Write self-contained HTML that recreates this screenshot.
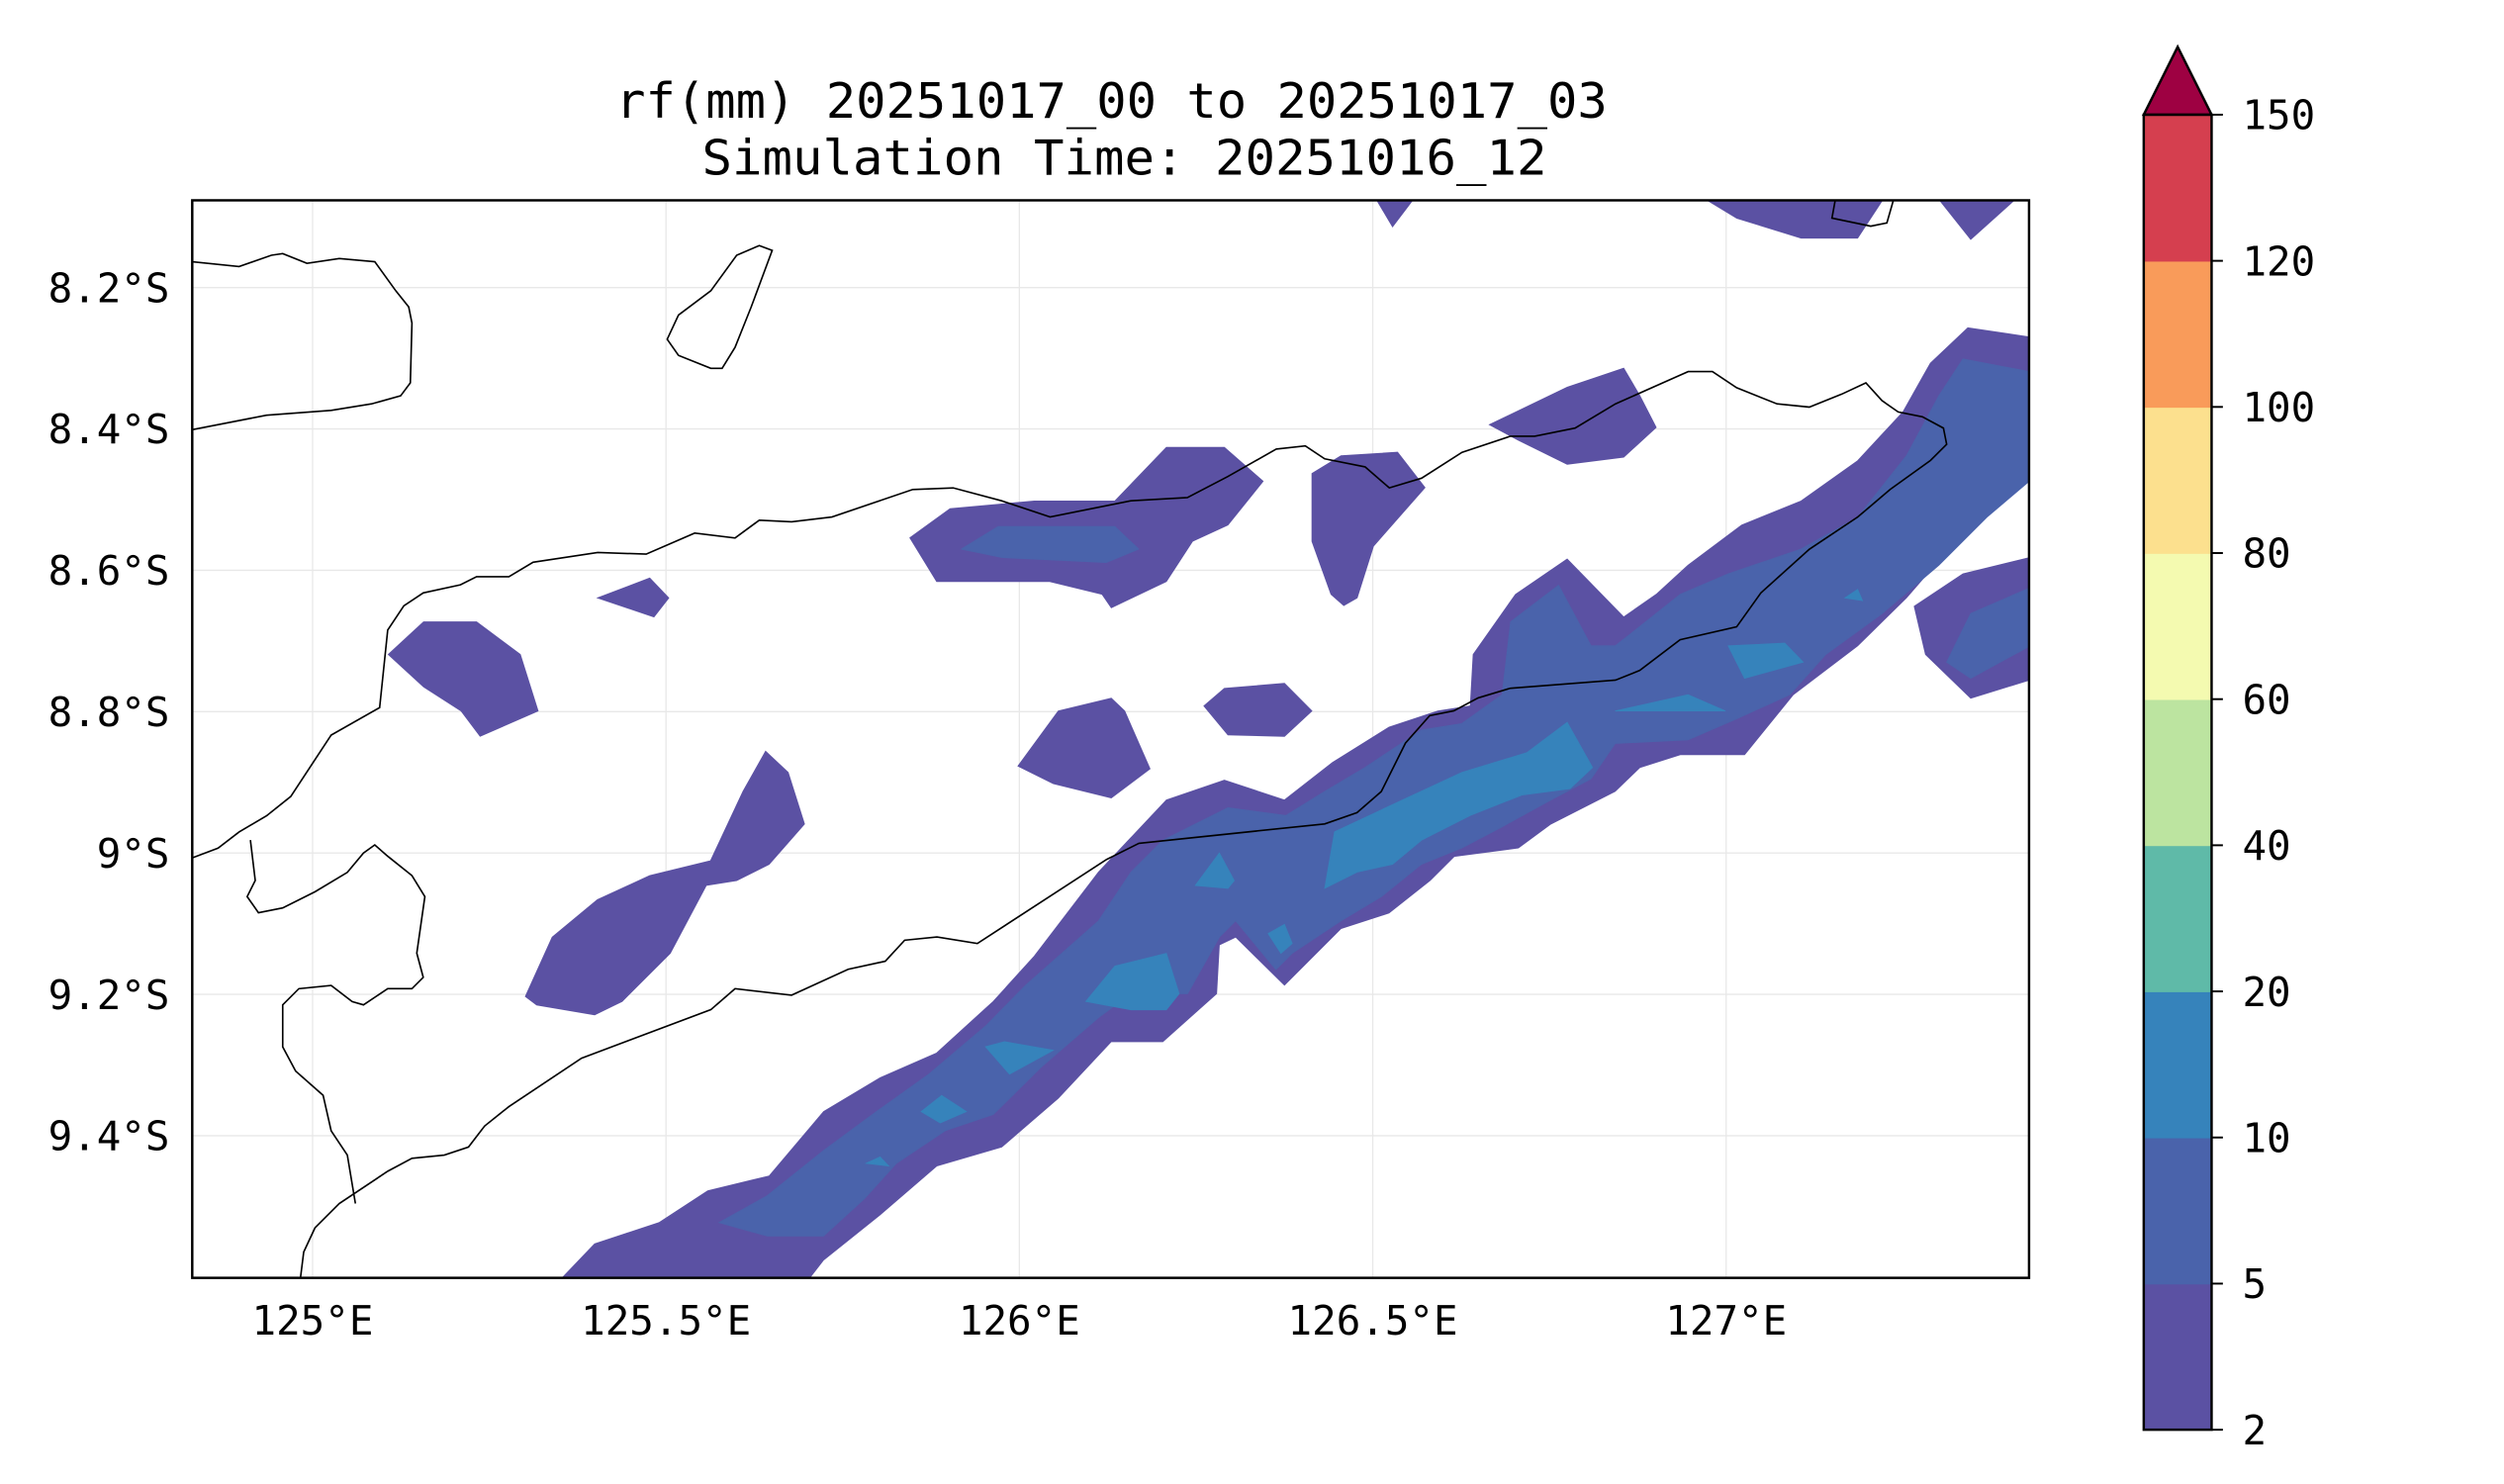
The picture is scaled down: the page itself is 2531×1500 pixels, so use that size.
<!DOCTYPE html>
<html><head><meta charset="utf-8">
<style>
html,body{margin:0;padding:0;background:#fff;}
svg{display:block;}
text{font-family:"DejaVu Sans Mono","Liberation Mono",monospace;fill:#000;}
</style></head>
<body>
<svg id="chart" width="2531" height="1500" viewBox="0 0 1550 918.6" preserveAspectRatio="none" xmlns="http://www.w3.org/2000/svg">
  <rect x="0" y="0" width="1550" height="918.6" fill="#fff"/>
  <text x="688" y="73" font-size="30" text-anchor="middle" textLength="614" lengthAdjust="spacingAndGlyphs">rf(mm) 20251017_00 to 20251017_03</text>
  <text x="696" y="108" font-size="30" text-anchor="middle" textLength="523" lengthAdjust="spacingAndGlyphs">Simulation Time: 20251016_12</text>
  <defs><clipPath id="plotclip"><rect x="119" y="124" width="1137" height="667"/></clipPath></defs>
  <g id="grid"></g>
  <g id="fills" clip-path="url(#plotclip)"></g>
  <g clip-path="url(#plotclip)" fill="none" stroke="#000" stroke-width="1">
    <polyline points="119,162 148,165 168,158 175,157 190,163 210,160 232,162 245,180 253,190 255,200 254,237 248,245 230,250 205,254 165,257 119,266"/>
    <polygon points="413,210 420,195 440,180 456,158 470,152 478,155 465,190 455,215 447,228 440,228 420,220"/>
    <polyline points="1136,124 1134,135 1158,140 1168,138 1172,124"/>
    <polyline points="119,531 135,525 148,515 165,505 180,493 205,455 235,438 240,390 250,375 262,367 285,362 295,357 315,357 330,348 370,342 400,343 430,330 455,333 470,322 490,323 515,320 565,303 590,302 620,310 650,320 700,310 735,308 760,295 790,278 808,276 820,284 845,289 860,302 880,296 905,280 935,270 950,270 975,265 1000,250 1045,230 1060,230 1075,240 1100,250 1120,252 1140,244 1155,237 1165,248 1175,255 1190,258 1203,265 1205,275 1195,285 1170,303 1150,320 1120,340 1090,367 1075,388 1040,396 1015,415 1000,421 935,426 915,432 900,440 885,443 870,460 855,490 840,503 820,510 705,522 685,532 605,584 580,580 560,582 548,595 525,600 490,616 455,612 440,625 360,655 315,685 300,697 290,710 275,715 255,717 240,725 210,745 195,760 188,775 186,791"/>
    <polyline points="155,520 158,545 153,555 160,565 175,562 195,552 215,540 225,528 232,523 240,530 255,542 263,555 258,590 262,605 255,612 240,612 225,622 218,620 205,610 185,612 175,622 175,648 183,663 200,678 205,700 215,715 220,745"/>
  </g>
  <rect x="119" y="124" width="1137" height="667" fill="none" stroke="#000" stroke-width="1.5"/>
  <g id="xticks"></g>
  <g id="yticks"></g>
  <g id="colorbar"></g>
</svg>
<script>
const lonTicks = [125, 125.5, 126, 126.5, 127];
const lonLabels = ["125°E", "125.5°E", "126°E", "126.5°E", "127°E"];
const latTicks = [8.2, 8.4, 8.6, 8.8, 9.0, 9.2, 9.4];
const latLabels = ["8.2°S", "8.4°S", "8.6°S", "8.8°S", "9°S", "9.2°S", "9.4°S"];
const cbLevels = [2, 5, 10, 20, 40, 60, 80, 100, 120, 150];
const cbColors = ["#5b51a3", "#4a63ab", "#3683bb", "#5fbaa8", "#bce4a0", "#f4fab0", "#fce08e", "#f99b5a", "#d53f4f"];
const cbOverColor = "#9e0142";

// contour polygons: [lon, lat(°S)] vertices
const level2Polys = [
 [[125.335,9.62],[125.399,9.553],[125.490,9.523],[125.559,9.478],[125.646,9.457],[125.723,9.366],[125.803,9.318],[125.883,9.283],[125.963,9.210],[126.021,9.146],[126.112,9.027],[126.208,8.925],[126.290,8.897],[126.375,8.925],[126.443,8.872],[126.523,8.822],[126.592,8.799],[126.638,8.792],[126.642,8.719],[126.702,8.634],[126.775,8.584],[126.855,8.666],[126.901,8.634],[126.946,8.593],[127.022,8.536],[127.106,8.502],[127.186,8.445],[127.250,8.376],[127.289,8.307],[127.342,8.257],[127.45,8.273],[127.45,8.440],[127.335,8.547],[127.255,8.639],[127.186,8.707],[127.095,8.776],[127.026,8.861],[126.935,8.861],[126.878,8.879],[126.843,8.913],[126.752,8.959],[126.706,8.993],[126.615,9.005],[126.581,9.039],[126.523,9.085],[126.455,9.107],[126.375,9.187],[126.306,9.119],[126.283,9.130],[126.279,9.199],[126.203,9.267],[126.130,9.267],[126.055,9.347],[125.975,9.416],[125.883,9.443],[125.803,9.512],[125.723,9.576],[125.689,9.62]],
 [[127.45,8.577],[127.335,8.605],[127.266,8.651],[127.282,8.719],[127.346,8.781],[127.45,8.749]],
 [[126.946,8.06],[127.015,8.102],[127.106,8.130],[127.186,8.130],[127.232,8.06]],
 [[127.289,8.06],[127.346,8.132],[127.426,8.06]],
 [[126.496,8.06],[126.528,8.114],[126.569,8.06]],
 [[126.665,8.394],[126.775,8.341],[126.855,8.314],[126.878,8.353],[126.901,8.398],[126.855,8.440],[126.775,8.450],[126.706,8.416]],
 [[126.414,8.463],[126.455,8.438],[126.535,8.433],[126.574,8.483],[126.501,8.566],[126.478,8.639],[126.459,8.650],[126.441,8.634],[126.414,8.559]],
 [[125.845,8.554],[125.902,8.513],[126.021,8.502],[126.135,8.502],[126.208,8.426],[126.290,8.426],[126.345,8.474],[126.295,8.536],[126.245,8.559],[126.208,8.616],[126.130,8.653],[126.117,8.634],[126.043,8.616],[125.883,8.616]],
 [[125.403,8.639],[125.477,8.611],[125.504,8.639],[125.483,8.666]],
 [[125.107,8.719],[125.157,8.673],[125.232,8.673],[125.294,8.719],[125.319,8.799],[125.237,8.835],[125.210,8.799],[125.157,8.765]],
 [[125.998,8.877],[126.055,8.799],[126.130,8.781],[126.149,8.799],[126.185,8.881],[126.130,8.922],[126.048,8.902]],
 [[126.261,8.792],[126.290,8.767],[126.375,8.760],[126.414,8.799],[126.375,8.835],[126.295,8.833]],
 [[125.301,9.203],[125.339,9.119],[125.403,9.066],[125.477,9.032],[125.563,9.011],[125.609,8.913],[125.641,8.856],[125.673,8.886],[125.696,8.959],[125.646,9.016],[125.600,9.039],[125.557,9.046],[125.506,9.142],[125.438,9.210],[125.399,9.229],[125.317,9.215]]
];
const level5Polys = [
 [[125.575,9.523],[125.643,9.485],[125.723,9.421],[125.792,9.370],[125.872,9.313],[125.952,9.245],[126.009,9.187],[126.112,9.096],[126.158,9.027],[126.203,8.982],[126.295,8.936],[126.377,8.947],[126.432,8.913],[126.489,8.879],[126.569,8.826],[126.626,8.817],[126.683,8.776],[126.695,8.673],[126.763,8.621],[126.809,8.707],[126.843,8.707],[126.866,8.689],[126.935,8.634],[127.003,8.605],[127.106,8.570],[127.186,8.525],[127.255,8.438],[127.301,8.353],[127.335,8.301],[127.45,8.323],[127.45,8.456],[127.369,8.525],[127.301,8.593],[127.221,8.661],[127.141,8.719],[127.090,8.776],[127.015,8.810],[126.946,8.840],[126.843,8.845],[126.809,8.895],[126.752,8.925],[126.683,8.963],[126.626,8.993],[126.569,9.016],[126.512,9.062],[126.455,9.096],[126.386,9.142],[126.363,9.165],[126.306,9.096],[126.283,9.119],[126.238,9.199],[126.158,9.199],[126.112,9.233],[126.032,9.302],[125.963,9.370],[125.895,9.393],[125.826,9.439],[125.781,9.489],[125.723,9.542],[125.643,9.542]],
 [[127.45,8.616],[127.346,8.661],[127.312,8.730],[127.346,8.753],[127.45,8.696]],
 [[125.918,8.570],[125.970,8.538],[126.135,8.538],[126.169,8.570],[126.123,8.589],[125.975,8.582]]
];
const level10Polys = [
 [[126.432,9.050],[126.446,8.970],[126.542,8.925],[126.626,8.886],[126.718,8.858],[126.775,8.815],[126.811,8.879],[126.779,8.909],[126.711,8.918],[126.638,8.947],[126.569,8.982],[126.528,9.016],[126.478,9.027]],
 [[127.003,8.707],[127.083,8.703],[127.109,8.730],[127.026,8.753]],
 [[126.843,8.799],[126.946,8.776],[126.999,8.799]],
 [[126.249,9.046],[126.283,9.000],[126.304,9.039],[126.295,9.050]],
 [[126.094,9.210],[126.135,9.160],[126.208,9.142],[126.226,9.199],[126.208,9.222],[126.158,9.222]],
 [[125.952,9.274],[125.979,9.267],[126.048,9.279],[125.986,9.313]],
 [[125.861,9.366],[125.890,9.343],[125.925,9.366],[125.888,9.382]],
 [[125.783,9.439],[125.803,9.430],[125.815,9.443]],
 [[126.352,9.114],[126.375,9.101],[126.386,9.128],[126.370,9.142]],
 [[127.168,8.639],[127.186,8.627],[127.193,8.643]]
];

const X0 = 631, Y0 = 528, PXDEG = 437.5;
function xScale(lon){ return X0 + (lon - 126) * PXDEG; }
function yScale(lat){ return Y0 + (lat - 9) * PXDEG; }
const CB_X = 1327, CB_W = 42, CB_TOP = 71, CB_BOT = 885;
function cbScale(i){ return CB_BOT - i * (CB_BOT - CB_TOP) / (cbLevels.length - 1); }

const NS = "http://www.w3.org/2000/svg";
function mk(tag, attrs, parent){
  const e = document.createElementNS(NS, tag);
  for (const k in attrs) e.setAttribute(k, attrs[k]);
  parent.appendChild(e);
  return e;
}

// gridlines
const grid = document.getElementById('grid');
lonTicks.forEach((v) => {
  const l = mk('line', {x1: xScale(v), x2: xScale(v), y1: 124, y2: 791, stroke: '#e8e8e8', 'stroke-width': 0.8}, grid);
  
  
});
latTicks.forEach((v) => {
  const l = mk('line', {x1: 119, x2: 1256, y1: yScale(v), y2: yScale(v), stroke: '#e8e8e8', 'stroke-width': 0.8}, grid);
  
  
});

// contours
const fills = document.getElementById('fills');
function drawPolys(polys, color, name){
  polys.forEach((p) => {
    const pts = p.map(v => xScale(v[0]).toFixed(1) + ',' + yScale(v[1]).toFixed(1)).join(' ');
    const e = mk('polygon', {points: pts, fill: color, stroke: color, 'stroke-width': 0.5}, fills);
    
    
  });
}
drawPolys(level2Polys, cbColors[0], 'contour-2-5mm');
drawPolys(level5Polys, cbColors[1], 'contour-5-10mm');
drawPolys(level10Polys, cbColors[2], 'contour-10-20mm');

// axis labels
const xt = document.getElementById('xticks');
lonTicks.forEach((v, i) => {
  const t = mk('text', {x: xScale(v), y: 826, 'font-size': 25, 'text-anchor': 'middle'}, xt);
  
  
  t.textContent = lonLabels[i];
});
const yt = document.getElementById('yticks');
latTicks.forEach((v, i) => {
  const t = mk('text', {x: 105, y: yScale(v) + 9, 'font-size': 25, 'text-anchor': 'end'}, yt);
  
  
  t.textContent = latLabels[i];
});

// colorbar
const cb = document.getElementById('colorbar');
cbColors.forEach((c, i) => {
  const y1 = cbScale(i + 1), y0 = cbScale(i);
  const r = mk('rect', {x: CB_X, y: y1, width: CB_W, height: y0 - y1 + 0.5, fill: c}, cb);
  
  
});
const tri = mk('polygon', {points: CB_X + ',' + CB_TOP + ' ' + (CB_X + CB_W / 2) + ',29 ' + (CB_X + CB_W) + ',' + CB_TOP, fill: cbOverColor, stroke: '#000', 'stroke-width': 1.5}, cb);


const cbFrame = mk('rect', {x: CB_X, y: CB_TOP, width: CB_W, height: CB_BOT - CB_TOP, fill: 'none', stroke: '#000', 'stroke-width': 1.5}, cb);


cbLevels.forEach((v, i) => {
  const y = cbScale(i);
  const tk = mk('line', {x1: CB_X + CB_W, x2: CB_X + CB_W + 7, y1: y, y2: y, stroke: '#000', 'stroke-width': 1.2}, cb);
  
  
  const t = mk('text', {x: CB_X + CB_W + 19, y: y + 9, 'font-size': 25}, cb);
  
  
  t.textContent = String(v);
});
</script>
</body></html>
